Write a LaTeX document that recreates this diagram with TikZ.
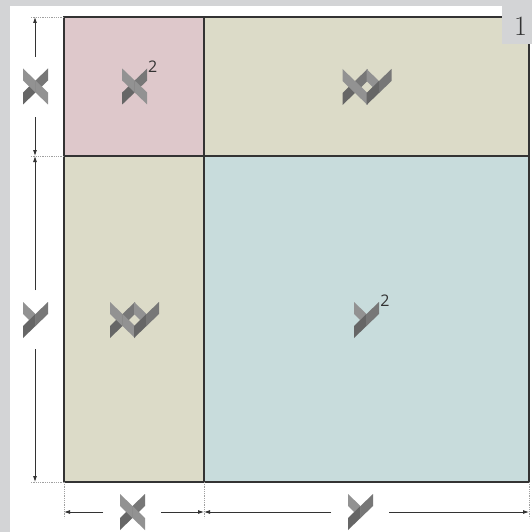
\documentclass[tikz,border=0pt]{standalone}
\usepackage{fontspec}
\newfontfamily\supfont{Open Sans}
\usetikzlibrary{arrows.meta}
\definecolor{framegray}{HTML}{D3D4D6}
\definecolor{pinkfill}{HTML}{DEC8CB}
\definecolor{beigefill}{HTML}{DCDBC8}
\definecolor{bluefill}{HTML}{C8DCDC}
\definecolor{edgecol}{HTML}{333333}
\definecolor{glight}{HTML}{929292}
\definecolor{gmid}{HTML}{777777}
\definecolor{gdark}{HTML}{666666}
\definecolor{extcol}{HTML}{A0A0A0}
\tikzset{
  region/.style={draw=edgecol, line width=1.3pt, inner sep=0pt, outer sep=0pt},
  dimline/.style={draw=edgecol, line width=0.8pt, -{Latex[length=6pt,width=4pt]}},
  extline/.style={draw=extcol, line width=0.8pt, densely dotted},
  gapbox/.style={inner sep=0pt, outer sep=0pt},
  supstyle/.style={font=\supfont\fontsize{16}{16}\selectfont, text=edgecol, inner sep=0pt},
  xarms/.pic={
    \fill[gdark]  (-12.5,18) -- (-12.5,6) -- (0,-6) -- (0,6) -- cycle;
    \fill[glight] (-12.5,-18) -- (-12.5,-6) -- (0,6) -- (0,-6) -- cycle;
    \fill[gmid]   (12.5,-18) -- (12.5,-6) -- (0,6) -- (0,-6) -- cycle;
    \fill[glight] (12.5,18) -- (12.5,6) -- (0,-6) -- (0,6) -- cycle;
  },
  yarms/.pic={
    \fill[glight] (-12.5,-18) -- (-12.5,-6) -- (0,6) -- (0,-6) -- cycle;
    \fill[gmid]   (12.5,-18) -- (12.5,-6) -- (0,6) -- (0,-6) -- cycle;
    \fill[gdark]  (0,-6) -- (0,6) -- (-12.5,18) -- (-12.5,6) -- cycle;
  },
  xyarms/.pic={
    \pic at (-12,0) {xarms};
    \pic at (12,0) {yarms};
  }
}
\begin{document}
\begin{tikzpicture}[x=1pt, y=-1pt]
\useasboundingbox (0,0) rectangle (532,532);
\fill[white] (0,0) rectangle (532,532);
% frame
\fill[framegray] (0,0) rectangle (532,6);
\fill[framegray] (0,0) rectangle (10,532);
% regions
\node[region, fill=pinkfill, minimum width=140pt, minimum height=139pt] (xsq) at (134,86.5) {};
\node[region, fill=beigefill, minimum width=325pt, minimum height=139pt] (xytop) at (366.5,86.5) {};
\node[region, fill=beigefill, minimum width=140pt, minimum height=326pt] (xyleft) at (134,319) {};
\node[region, fill=bluefill, minimum width=325pt, minimum height=326pt] (ysq) at (366.5,319) {};
% page number box
\node[fill=framegray, minimum width=30pt, minimum height=44pt, inner sep=0pt, anchor=north east] (pagebox) at (532,0) {};
\node[font=\fontsize{28}{28}\selectfont, inner sep=0pt, text=edgecol] (pagenum) at (520.5,26.5) {1};
% glyphs in regions
\pic at (134.7,86.5) {xarms};
\node[supstyle] (xsup) at (152.7,66.5) {2};
\pic at (367,87) {xyarms};
\pic at (134.5,320) {xyarms};
\pic at (366.5,320) {yarms};
\node[supstyle] (ysup) at (385,301) {2};
% extension lines
\draw[extline] (xsq.north west) -- ++(-34,0);
\draw[extline] (xsq.south west) -- ++(-34,0);
\draw[extline] (xyleft.south west) -- ++(-34,0);
\draw[extline] (xyleft.south west) -- ++(0,36);
\draw[extline] (xyleft.south east) -- ++(0,36);
\draw[extline] (ysq.south east) -- ++(0,36);
% dimension end points
\coordinate (dl0) at (35,17);
\coordinate (dl1) at (35,156);
\coordinate (dl2) at (35,482);
\coordinate (db0) at (64,512);
\coordinate (db1) at (204,512);
\coordinate (db2) at (529,512);
% left dimension
\node[gapbox, minimum width=26pt, minimum height=60pt] (lx) at (35,87) {};
\pic at (35.5,86.5) {xarms};
\draw[dimline] (lx.north) -- (dl0);
\draw[dimline] (lx.south) -- (dl1);
\node[gapbox, minimum width=26pt, minimum height=59pt] (ly) at (35,319.5) {};
\pic at (35.5,320) {yarms};
\draw[dimline] (ly.north) -- (dl1);
\draw[dimline] (ly.south) -- (dl2);
% bottom dimension
\node[gapbox, minimum width=58pt, minimum height=36pt] (bx) at (132,512) {};
\pic at (132.5,512) {xarms};
\draw[dimline] (bx.west) -- (db0);
\draw[dimline] (bx.east) -- (db1);
\node[gapbox, minimum width=58pt, minimum height=36pt] (by) at (360,512) {};
\pic at (360.5,512) {yarms};
\draw[dimline] (by.west) -- (db1);
\draw[dimline] (by.east) -- (db2);
\end{tikzpicture}
\end{document}
